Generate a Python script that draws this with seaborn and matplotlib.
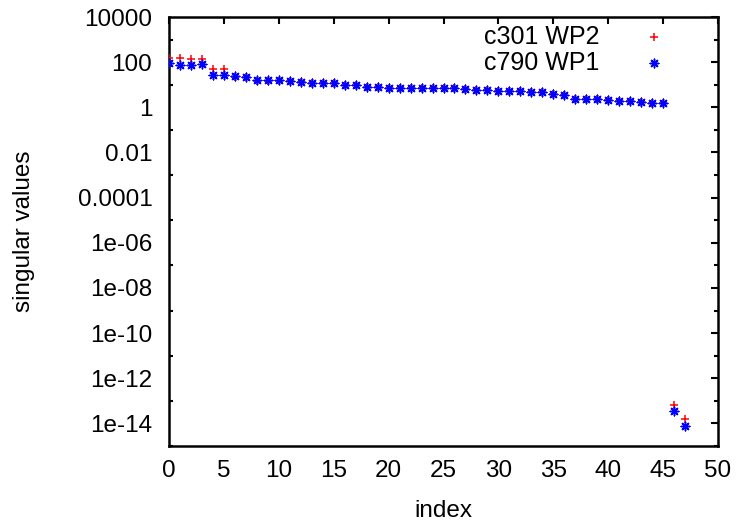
import numpy as np
import pandas as pd
import matplotlib
matplotlib.use("Agg")
import matplotlib.pyplot as plt
import matplotlib.ticker as mticker
import seaborn as sns

# ---- data ----
index = list(range(48))
c301_wp2 = [148, 148, 138, 141, 51, 51, 22.4, 23, 15.2, 15.4, 15.0, 14.5,
            12.7, 12.0, 11.9, 11.8, 9.4, 9.5, 7.8, 7.9, 7.4, 7.3, 7.4, 7.3,
            7.2, 7.1, 7.0, 6.4, 5.9, 5.8, 5.5, 5.4, 5.1, 5.0, 4.9, 3.8,
            3.5, 2.3, 2.3, 2.24, 2.04, 2.0, 1.9, 1.74, 1.51, 1.48,
            6.8e-14, 1.6e-14]
c790_wp1 = [89, 76, 76, 81, 26, 26, 24.5, 23, 15.8, 15.8, 15.5, 14.8,
            12.9, 12.0, 12.0, 12.0, 9.5, 9.5, 7.9, 7.9, 7.4, 7.4, 7.4, 7.4,
            7.2, 7.2, 7.1, 6.5, 5.9, 5.9, 5.5, 5.4, 5.1, 5.0, 5.0, 3.8,
            3.5, 2.3, 2.3, 2.24, 2.04, 2.0, 1.9, 1.74, 1.51, 1.48,
            3.5e-14, 7.4e-15]
series_names = ["c301 WP2", "c790 WP1"]
x_ticks = [0, 5, 10, 15, 20, 25, 30, 35, 40, 45, 50]
y_major = [1e4, 1e2, 1e0, 1e-2, 1e-4, 1e-6, 1e-8, 1e-10, 1e-12, 1e-14]
y_labels = ["10000", "100", "1", "0.01", "0.0001", "1e-06", "1e-08",
            "1e-10", "1e-12", "1e-14"]
y_minor = [1e3, 1e1, 1e-1, 1e-3, 1e-5, 1e-7, 1e-9, 1e-11, 1e-13, 1e-15]

df = pd.DataFrame({"index": index, "c301": c301_wp2, "c790": c790_wp1})

sns.set_theme(style="white")
plt.rcParams['font.family'] = ['Liberation Sans', 'DejaVu Sans']
plt.rcParams['font.size'] = 17.5
plt.rcParams['text.color'] = 'black'
plt.rcParams['axes.labelcolor'] = 'black'

fig = plt.figure(figsize=(7.38, 5.25), dpi=100)
ax = fig.add_axes([169/738, 1 - 446/525, (718-169)/738, (446-17)/525])

sns.scatterplot(data=df, x="index", y="c301", ax=ax, marker="+", color="#ff0000",
                s=40, linewidth=1.1, label=series_names[0], zorder=3)
sns.scatterplot(data=df, x="index", y="c790", ax=ax, marker=(8, 2, 0), color="#0000ff",
                s=38, linewidth=1.1, edgecolor="#0000ff", label=series_names[1], zorder=4)

ax.set_yscale("log")
ax.set_xlim(0, 50)
ax.set_ylim(1e-15, 1e4)
ax.xaxis.set_major_locator(mticker.FixedLocator(x_ticks))
ax.set_xticklabels([str(t) for t in x_ticks])
ax.yaxis.set_major_locator(mticker.FixedLocator(y_major))
ax.yaxis.set_major_formatter(mticker.FixedFormatter(y_labels))
ax.yaxis.set_minor_locator(mticker.FixedLocator(y_minor))
ax.yaxis.set_minor_formatter(mticker.NullFormatter())

ax.tick_params(axis="both", which="major", direction="in", top=True, right=True,
               length=5, width=1.5, labelsize=17.5, color="black", labelcolor="black")
ax.tick_params(axis="x", which="major", pad=10)
ax.tick_params(axis="y", which="major", pad=12)
ax.tick_params(axis="y", which="minor", direction="in", left=True, right=True,
               length=3, width=1.5, color="black")
for sp in ax.spines.values():
    sp.set_visible(True)
    sp.set_color("black")
    sp.set_linewidth(1.8)

ax.set_xlabel("index", fontsize=17.5, labelpad=13)
ax.set_ylabel("singular values", fontsize=17.5, labelpad=31)

leg = ax.legend(loc="upper right", bbox_to_anchor=((679-169)/549, (446-25)/429),
                frameon=False, markerfirst=False, fontsize=18, borderaxespad=0,
                borderpad=0, handletextpad=1.2, handlelength=2.0, labelspacing=0.08,
                scatterpoints=1)
for t in leg.get_texts():
    t.set_color("black")

fig.savefig("out.png", dpi=100)
